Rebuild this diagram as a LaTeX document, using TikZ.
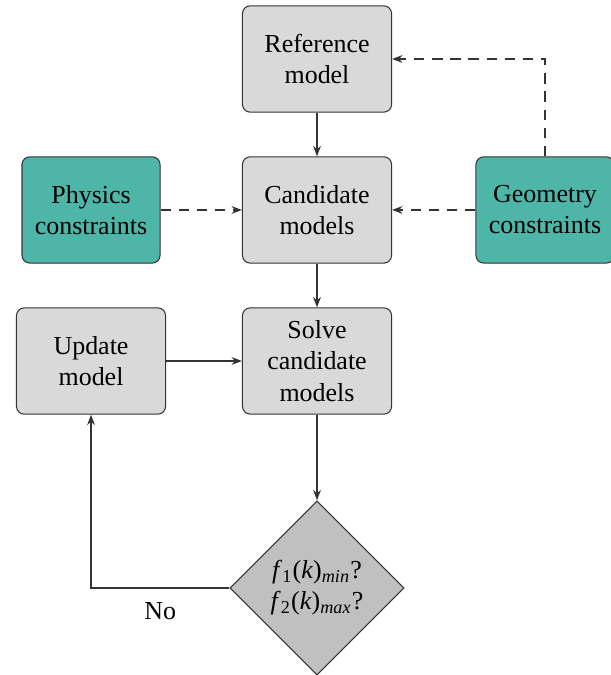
\documentclass[tikz,border=0pt]{standalone}
\usepackage{fontspec}
\setmainfont{Liberation Serif}
\usetikzlibrary{arrows.meta,shapes.geometric}

\definecolor{boxgray}{RGB}{217,217,217}
\definecolor{diagray}{RGB}{192,192,192}
\definecolor{consteal}{RGB}{77,182,168}

% objective with a subscript, set in the text italic
\newcommand{\objf}[2]{\textit{f}\textsubscript{#1}(\textit{k})\textsubscript{\textit{#2}}?}

\tikzset{
  block/.style={draw=black!80, fill=boxgray, rounded corners=3pt, align=center,
    minimum width=2.02cm, minimum height=1.44cm, inner sep=2pt},
  cons/.style={block, fill=consteal, minimum width=1.87cm},
  decide/.style={draw=black!80, fill=diagray, diamond, align=center,
    minimum size=2.36cm, inner sep=0pt},
  line/.style={draw=black!80, line width=0.5pt, -{Stealth[length=4pt,width=3pt]}},
  dline/.style={line, dashed, dash pattern=on 4pt off 3pt}
}

\begin{document}
\begin{tikzpicture}
      \useasboundingbox (0,0) rectangle (8.263,-9.143);
      \node[block] (ref) at (4.294,-0.799) {Reference\\model};
      \node[block] (cand) at (4.294,-2.844) {Candidate\\models};
      \node[cons] (phys) at (1.233,-2.844) {Physics\\constraints};
      \node[cons] (geom) at (7.382,-2.844) {Geometry\\constraints};
      \node[block] (upd) at (1.233,-4.890) {Update\\model};
      \node[block] (solve) at (4.294,-4.890) {Solve\\candidate\\models};
      \node[decide] (test) at (4.294,-7.964) {\objf{1}{min}\\\objf{2}{max}};
      \begin{scope}[line]
        \draw (ref) to (cand);
        \draw (cand) to (solve);
        \draw (upd) to (solve);
        \draw (solve) to (test);
        \draw (test.west) -| node[pos=0.25, below=2pt] {No} (upd.south);
      \end{scope}
      \begin{scope}[dline]
        \draw (phys) to (cand);
        \draw (geom) to (cand);
        \draw (geom.north) |- (ref.east);
      \end{scope}
    \end{tikzpicture}
\end{document}
